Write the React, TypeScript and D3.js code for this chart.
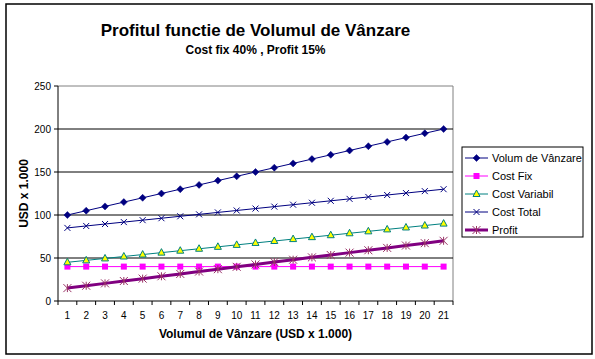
import React from 'react';
import * as d3 from 'd3';

const categories = [1, 2, 3, 4, 5, 6, 7, 8, 9, 10, 11, 12, 13, 14, 15, 16, 17, 18, 19, 20, 21];
const volum = [100, 105, 110, 115, 120, 125, 130, 135, 140, 145, 150, 155, 160, 165, 170, 175, 180, 185, 190, 195, 200];
const costFix = [40, 40, 40, 40, 40, 40, 40, 40, 40, 40, 40, 40, 40, 40, 40, 40, 40, 40, 40, 40, 40];
const costVariabil = [45, 47.25, 49.5, 51.75, 54, 56.25, 58.5, 60.75, 63, 65.25, 67.5, 69.75, 72, 74.25, 76.5, 78.75, 81, 83.25, 85.5, 87.75, 90];
const costTotal = [85, 87.25, 89.5, 91.75, 94, 96.25, 98.5, 100.75, 103, 105.25, 107.5, 109.75, 112, 114.25, 116.5, 118.75, 121, 123.25, 125.5, 127.75, 130];
const profit = [15, 17.75, 20.5, 23.25, 26, 28.75, 31.5, 34.25, 37, 39.75, 42.5, 45.25, 48, 50.75, 53.5, 56.25, 59, 61.75, 64.5, 67.25, 70];
const yTicks = [0, 50, 100, 150, 200, 250];

type Marker = 'diamond' | 'square' | 'triangle' | 'xbar' | 'star';

const series: { name: string; values: number[]; color: string; width: number; marker: Marker }[] = [
  { name: 'Volum de Vânzare', values: volum, color: '#000080', width: 1, marker: 'diamond' },
  { name: 'Cost Fix', values: costFix, color: '#ff00ff', width: 1, marker: 'square' },
  { name: 'Cost Variabil', values: costVariabil, color: '#008080', width: 1, marker: 'triangle' },
  { name: 'Cost Total', values: costTotal, color: '#000080', width: 1, marker: 'xbar' },
  { name: 'Profit', values: profit, color: '#800080', width: 3, marker: 'star' },
];

const font = 'Arial, "Liberation Sans", sans-serif';

function MarkerShape({ type, x, y }: { type: Marker; x: number; y: number }) {
  switch (type) {
    case 'diamond':
      return <path d={`M${x},${y - 3.5}L${x + 3.5},${y}L${x},${y + 3.5}L${x - 3.5},${y}Z`} fill="#000080" stroke="#000080" strokeWidth={0.5} />;
    case 'square':
      return <rect x={x - 3} y={y - 3} width={6} height={6} fill="#ff00ff" />;
    case 'triangle':
      return <path d={`M${x},${y - 4}L${x + 3.5},${y + 2.5}L${x - 3.5},${y + 2.5}Z`} fill="#ffff00" stroke="#008080" strokeWidth={1} />;
    case 'xbar':
      return (
        <g stroke="#000080" strokeWidth={1}>
          <line x1={x - 3} y1={y - 3} x2={x + 3} y2={y + 3} />
          <line x1={x - 3} y1={y + 3} x2={x + 3} y2={y - 3} />
        </g>
      );
    case 'star':
      return (
        <g stroke="#993366" strokeWidth={1}>
          <line x1={x - 4} y1={y - 4} x2={x + 4} y2={y + 4} />
          <line x1={x - 4} y1={y + 4} x2={x + 4} y2={y - 4} />
          <line x1={x} y1={y - 4} x2={x} y2={y + 4} />
        </g>
      );
  }
}

export default function App() {
  const W = 595, H = 359;
  const left = 58, right = 453, top = 86, bottom = 301;

  const x = d3.scaleBand<number>().domain(categories).range([left, right]);
  const y = d3.scaleLinear().domain([0, 250]).range([bottom, top]);
  const cx = (c: number) => (x(c) ?? 0) + x.bandwidth() / 2;
  const line = d3.line<number>().x((_, i) => cx(categories[i])).y(v => y(v));

  const plotMid = (left + right) / 2;
  const boundaries = categories.map(c => x(c) ?? 0).concat([right]);

  return (
    <div style={{ position: 'absolute', left: 0, top: 0 }}>
      <svg width={W} height={H} style={{ display: 'block', fontFamily: font }}>
        <rect x={0} y={0} width={W} height={H} fill="#fff" />
        <rect x={6} y={4} width={586} height={350} fill="none" stroke="#000" strokeWidth={1.5} />

        <text x={plotMid} y={36} textAnchor="middle" fontSize={17} fontWeight="bold">Profitul functie de Volumul de Vânzare</text>
        <text x={plotMid} y={54} textAnchor="middle" fontSize={12} fontWeight="bold">Cost fix 40% , Profit 15%</text>

        {/* plot frame */}
        <line x1={left} y1={top} x2={right} y2={top} stroke="#808080" />
        <line x1={right} y1={top} x2={right} y2={bottom} stroke="#808080" />

        {yTicks.filter(t => t > 0 && t < 250).map(t => (
          <line key={t} x1={left} x2={right} y1={y(t)} y2={y(t)} stroke="#000" />
        ))}

        {/* axes */}
        <line x1={left} y1={top} x2={left} y2={bottom} stroke="#000" />
        <line x1={left} y1={bottom} x2={right} y2={bottom} stroke="#000" />
        {yTicks.map(t => (
          <g key={t}>
            <line x1={left - 4} x2={left} y1={y(t)} y2={y(t)} stroke="#000" />
            <text x={left - 7} y={y(t) + 3.5} textAnchor="end" fontSize={10}>{t}</text>
          </g>
        ))}
        {boundaries.map((b, i) => (
          <line key={i} x1={b} x2={b} y1={bottom} y2={bottom + 4} stroke="#000" />
        ))}
        {categories.map(c => (
          <text key={c} x={cx(c)} y={bottom + 18} textAnchor="middle" fontSize={10}>{c}</text>
        ))}

        <text x={plotMid} y={338} textAnchor="middle" fontSize={12} fontWeight="bold">Volumul de Vânzare (USD x 1.000)</text>
        <text transform={`translate(28,${(top + bottom) / 2}) rotate(-90)`} textAnchor="middle" fontSize={12} fontWeight="bold">USD x 1.000</text>

        {/* series */}
        {series.map(s => (
          <g key={s.name}>
            <path d={line(s.values) ?? ''} fill="none" stroke={s.color} strokeWidth={s.width} />
            {s.values.map((v, i) => (
              <MarkerShape key={i} type={s.marker} x={cx(categories[i])} y={y(v)} />
            ))}
          </g>
        ))}

        {/* legend */}
        <rect x={462} y={147} width={121} height={90} fill="#fff" stroke="#000" />
        {series.map((s, i) => {
          const ly = 158 + i * 18;
          return (
            <g key={s.name}>
              <line x1={465} x2={488} y1={ly} y2={ly} stroke={s.color} strokeWidth={s.width} />
              <MarkerShape type={s.marker} x={476.5} y={ly} />
              <text x={492} y={ly + 4} fontSize={11}>{s.name}</text>
            </g>
          );
        })}
      </svg>
    </div>
  );
}
